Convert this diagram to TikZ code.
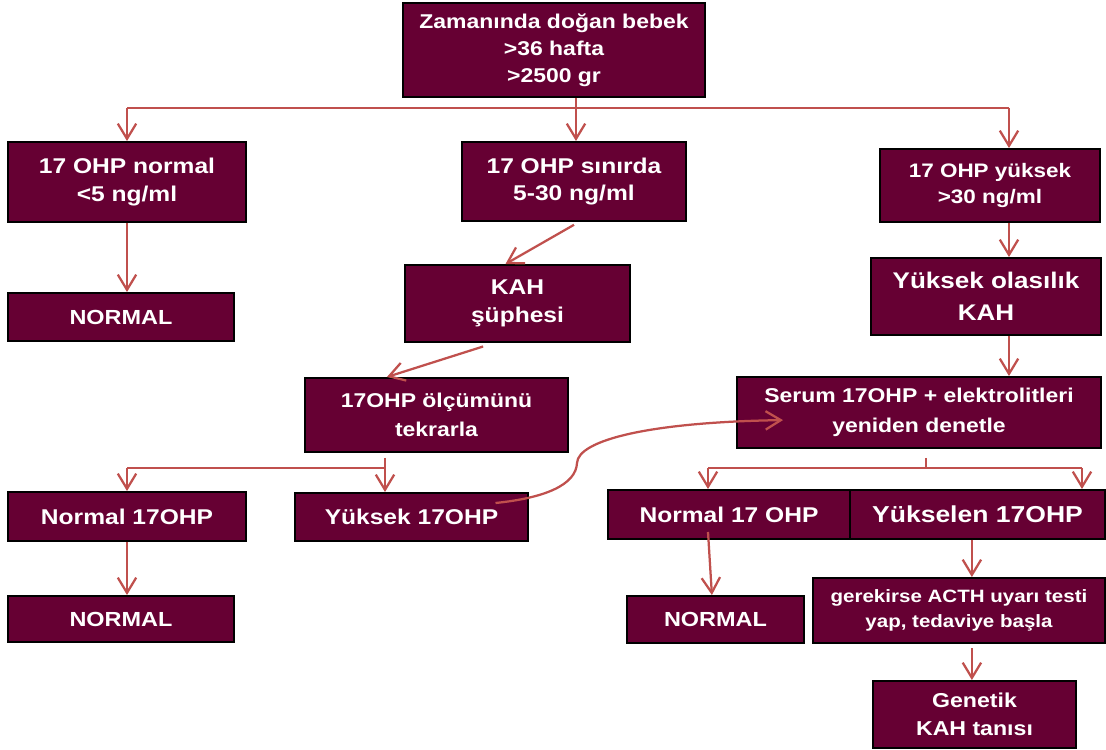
\documentclass[tikz,border=0pt]{standalone}
\usepackage{fontspec}
\setmainfont{Liberation Sans}[FakeStretch=1.15]
\usetikzlibrary{arrows.meta,positioning}
\definecolor{kmaroon}{HTML}{660033}
\definecolor{karrow}{HTML}{C0504D}
\tikzset{
  box/.style={rectangle,draw=black,fill=kmaroon,line width=1.4pt,text=white,align=center,inner sep=2pt,font=\bfseries\fontsize{15.2}{19.8}\selectfont},
  link/.style={draw=karrow,line width=1.6pt},
  arr/.style={-{Straight Barb[length=3.8mm,width=4.6mm]},draw=karrow,line width=1.6pt},
}

\begin{document}
\begin{tikzpicture}
  \useasboundingbox[fill=white] (0,0) rectangle (27.65,18.725);
  % first row
  \node[box,minimum width=7.55cm,minimum height=2.35cm,font=\bfseries\fontsize{14.2}{19.1}\selectfont] (top) at (13.85,17.475) {Zamanında doğan bebek\\>36 hafta\\>2500 gr};
  \node[box,minimum width=5.95cm,minimum height=2.0cm] (ohpnorm) at (3.175,14.175) {17 OHP normal\\<5 ng/ml};
  \node[box,minimum width=5.6cm,minimum height=1.975cm] (ohpsinir) at (14.35,14.1875) {17 OHP sınırda\\5-30 ng/ml};
  \node[box,minimum width=5.5cm,minimum height=1.825cm,font=\bfseries\fontsize{13.9}{19.1}\selectfont] (ohpyuk) at (24.75,14.0875) {17 OHP yüksek\\>30 ng/ml};
  \node[box,minimum width=5.65cm,minimum height=1.2cm,font=\bfseries\fontsize{14.5}{18}\selectfont] (normA) at (3.025,10.8) {NORMAL};
  \node[box,minimum width=5.625cm,minimum height=1.925cm] (kahsup) at (12.9375,11.1375) {KAH\\şüphesi};
  \node[box,minimum width=5.75cm,minimum height=1.925cm,font=\bfseries\fontsize{16.1}{22.7}\selectfont] (kahyuk) at (24.65,11.3125) {Yüksek olasılık\\KAH};
  \node[box,minimum width=6.575cm,minimum height=1.85cm,font=\bfseries\fontsize{14.2}{21}\selectfont] (tekrar) at (10.9125,8.35) {17OHP ölçümünü\\tekrarla};
  \node[box,minimum width=9.1cm,minimum height=1.775cm,font=\bfseries\fontsize{14.2}{21}\selectfont] (serum) at (22.975,8.4125) {Serum 17OHP + elektrolitleri\\yeniden denetle};
  % lower rows
  \node[box,minimum width=5.95cm,minimum height=1.225cm] (norm17a) at (3.175,5.8125) {Normal 17OHP};
  \node[box,minimum width=5.825cm,minimum height=1.2cm] (yuk17) at (10.2875,5.8) {Yüksek 17OHP};
  \node[box,minimum width=5.65cm,minimum height=1.15cm,font=\bfseries\fontsize{14.5}{18}\selectfont] (normB) at (3.025,3.25) {NORMAL};
  \node[box,minimum width=6.05cm,minimum height=1.225cm] (norm17b) at (18.225,5.8625) {Normal 17 OHP};
  \node[box,minimum width=6.375cm,minimum height=1.225cm,font=\bfseries\fontsize{16.4}{20}\selectfont] (yukselen) at (24.4375,5.8625) {Yükselen 17OHP};
  \node[box,minimum width=4.425cm,minimum height=1.175cm,font=\bfseries\fontsize{14.5}{18}\selectfont] (normC) at (17.8875,3.2375) {NORMAL};
  \node[box,minimum width=7.3cm,minimum height=1.625cm,font=\bfseries\fontsize{12.7}{17.7}\selectfont] (acth) at (23.975,3.4625) {gerekirse ACTH uyarı testi\\yap, tedaviye başla};
  \node[box,minimum width=5.075cm,minimum height=1.675cm,font=\bfseries\fontsize{14.3}{20}\selectfont] (genetik) at (24.3625,0.8625) {Genetik\\KAH tanısı};
  % bus under the top box
  \coordinate (b0) at (14.4,16.025);
  \coordinate (bR) at (25.225,16.025);
  \draw[link] (top.south -| b0) -- (b0);
  \draw[link] (ohpnorm.north |- b0) -- (bR);
  \draw[arr] (ohpnorm.north |- b0) -- (ohpnorm.north);
  \draw[arr] (b0) -- (b0 |- ohpsinir.north);
  \draw[arr] (bR) -- (bR |- ohpyuk.north);
  \draw[arr] (ohpnorm.south) -- (ohpnorm.south |- normA.north);
  \draw[arr] ([yshift=-2pt]ohpsinir.south) -- ([xshift=-3mm]kahsup.north);
  \draw[arr] (bR |- ohpyuk.south) -- (bR |- kahyuk.north);
  \draw[arr] ([xshift=-8.6mm,yshift=-2.5pt]kahsup.south) -- ([xshift=-12.4mm]tekrar.north);
  \draw[arr] (bR |- kahyuk.south) -- (bR |- serum.north);
  % bus under tekrar
  \coordinate (b1) at (9.625,7.025);
  \draw[link,shorten <=1.2mm] (b1 |- tekrar.south) -- (b1);
  \draw[link] (norm17a.north |- b1) -- (b1);
  \draw[arr] (norm17a.north |- b1) -- (norm17a.north);
  \draw[arr] (b1) -- (b1 |- yuk17.north);
  \draw[arr] (norm17a.south) -- (norm17a.south |- normB.north);
  % bus under serum
  \coordinate (b2) at (23.15,7.025);
  \coordinate (bL2) at (17.7,7.025);
  \coordinate (bR2) at (27.05,7.025);
  \draw[link,shorten <=2.2mm] (b2 |- serum.south) -- (b2);
  \draw[link] (bL2) -- (bR2);
  \draw[arr] (bL2) -- (bL2 |- norm17b.north);
  \draw[arr] (bR2) -- (bR2 |- yukselen.north);
  \draw[arr] ([xshift=-5.25mm,yshift=2mm]norm17b.south) -- ([xshift=-0.9mm]normC.north);
  \coordinate (eX) at ([xshift=-1.4mm]yukselen.south);
  \draw[arr] (eX) -- (eX |- acth.north);
  \draw[arr] ([yshift=-3pt]eX |- acth.south) -- (eX |- genetik.north);
  % curved link from Yuksek 17OHP to Serum
  \coordinate (bend) at (14.425,7.15);
  \draw[arr] ([shift={(2.1,0.35)}]yuk17.center) .. controls +(1.225,0.125) and +(-0.025,-0.55) .. (bend)
    .. controls +(0.025,0.575) and +(-3.325,-0.05) .. ([shift={(-3.4,-0.19)}]serum.center);
\end{tikzpicture}
\end{document}
